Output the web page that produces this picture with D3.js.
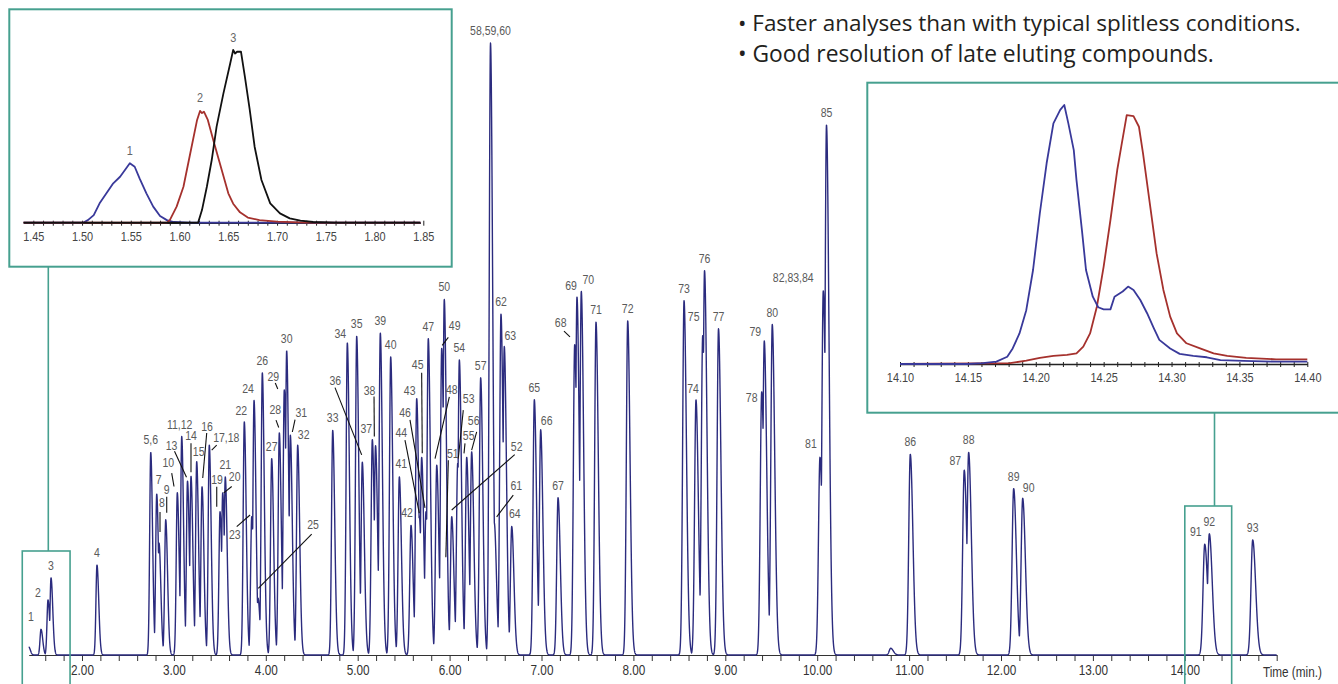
<!DOCTYPE html>
<html>
<head>
<meta charset="utf-8">
<script src="https://cdn.jsdelivr.net/npm/d3@7"></script>
<style>
  html, body { margin: 0; padding: 0; background: #fff; }
  svg { display: block; }
  .cond { font-family: "Liberation Sans", Arial, sans-serif; }
</style>
</head>
<body>
<div id="chart"></div>
<script>
// ---- peaks (time in min, height in % of tallest peak) ----
var peakLabels = ['1','2','3','4','5,6','7','8','9','10','11,12','13','14','15','16','17,18','19','20','21','22','23',
    '24','25','26','27','28','29','30','31','32','33','34','35','36','37','38','39','40','41','42','43','44','45','46',
    '47','48','49','50','51','52','53','54','55','56','57','58,59,60','61','62','63','64','65','66','67','68','69','70',
    '71','72','73','74','75','76','77','78','79','80','81','82,83,84','85','86','87','88','89','90','91','92','93'];
var peakTimes = [1.554, 1.630, 1.663, 2.163, 2.748, 2.813, 2.838, 2.911, 3.037, 3.085, 3.148, 3.186, 3.248, 3.306, 3.385,
    3.502, 3.531, 3.559, 3.766, 3.847, 3.872, 3.915, 3.962, 4.064, 4.147, 4.201, 4.227, 4.267, 4.347, 4.728, 4.887, 4.989,
    5.050, 5.159, 5.194, 5.246, 5.359, 5.453, 5.580, 5.642, 5.670, 5.696, 5.743, 5.768, 5.860, 5.914, 5.942, 5.959, 6.023,
    6.088, 6.106, 6.186, 6.240, 6.338, 6.445, 6.486, 6.559, 6.595, 6.676, 6.922, 6.991, 7.180, 7.361, 7.386, 7.433, 7.593,
    7.938, 8.551, 8.681, 8.754, 8.774, 8.926, 9.396, 9.424, 9.511, 10.030, 10.066, 10.101, 11.013, 11.600, 11.648, 12.138,
    12.236, 14.217, 14.267, 14.739];
var peakHeights = [4.2, 9.0, 12.6, 14.7, 33.1, 26.3, 18.3, 22.1, 26.5, 35.7, 28.4, 29.2, 31.6, 27.5, 34.3,
    23.4, 26.5, 29.1, 38.1, 22.6, 41.6, 9.3, 46.1, 32.1, 36.3, 43.3, 49.7, 35.9, 34.3, 36.7, 51.0, 52.1,
    31.5, 35.2, 34.2, 52.6, 48.7, 29.1, 21.2, 41.9, 22.7, 32.3, 23.4, 51.7, 31.0, 50.1, 58.1, 15.5, 22.6,
    31.3, 48.2, 32.3, 33.2, 45.3, 100, 21.6, 55.7, 50.4, 21.0, 41.7, 36.8, 25.7, 50.7, 58.5, 59.4, 54.4,
    54.6, 57.9, 41.7, 52.2, 62.8, 53.3, 43.0, 51.3, 54.0, 32.3, 59.5, 86.6, 32.8, 30.2, 33.1, 27.2,
    25.6, 18.1, 19.8, 18.8];
// small unlabelled bumps (solvent tail, 10.8 min)
var minorTimes   = [1.42, 10.80];
var minorHeights = [1.3, 1.1];

var timeTicks  = [2, 3, 4, 5, 6, 7, 8, 9, 10, 11, 12, 13, 14];
var axisTitle  = 'Time (min.)';

// zoom 1.45 - 1.85 min : [time, % of peak 3]
var leftTicks = [1.45, 1.50, 1.55, 1.60, 1.65, 1.70, 1.75, 1.80, 1.85];
var leftPeak1 = [[1.440,0],[1.501,0],[1.506,1.5],[1.512,4.4],[1.518,11.2],[1.525,17],[1.532,22.8],[1.539,26.6],
    [1.544,30.5],[1.549,34.4],[1.554,32.4],[1.559,25.7],[1.566,17],[1.573,9.3],[1.580,3.9],[1.587,1.5],[1.594,0.4],
    [1.610,0],[1.847,0]];
var leftPeak2 = [[1.440,0],[1.587,0],[1.590,1.5],[1.597,9.3],[1.604,20.8],[1.611,40.2],[1.618,59.5],[1.621,64.7],
    [1.623,63.5],[1.625,64.3],[1.629,59.5],[1.635,47],[1.640,37],[1.645,27],[1.650,17],[1.655,11],[1.662,6],
    [1.670,3],[1.682,1.5],[1.700,0.6],[1.730,0],[1.847,0]];
var leftPeak3 = [[1.440,0],[1.619,0],[1.623,7.3],[1.628,20.8],[1.633,36.3],[1.638,55.6],[1.645,74.9],[1.652,92.3],
    [1.655,100],[1.657,98],[1.659,99],[1.663,99],[1.667,84.6],[1.672,65.3],[1.677,44],[1.684,24.7],[1.693,11.2],
    [1.703,5.4],[1.713,2.5],[1.724,1.2],[1.737,0.4],[1.760,0],[1.847,0]];

// zoom 14.10 - 14.40 min : [time, % of peak 91]
var rightTicks = [14.10, 14.15, 14.20, 14.25, 14.30, 14.35, 14.40];
var rightPeak91 = [[14.100,0],[14.150,0],[14.161,0.3],[14.171,0.9],[14.179,2.8],[14.183,6.0],[14.188,11.8],
    [14.193,20.8],[14.198,36.3],[14.203,58.2],[14.208,77.5],[14.213,92.9],[14.218,98.1],[14.221,100],[14.224,92.9],
    [14.228,82.6],[14.230,71],[14.234,51.7],[14.237,36.3],[14.242,26],[14.246,21.9],[14.250,21.1],[14.255,21.1],
    [14.258,26],[14.264,28],[14.268,29.9],[14.272,28.6],[14.277,24.7],[14.282,19.6],[14.287,13.8],[14.291,9.3],
    [14.299,6.0],[14.306,3.9],[14.316,3.1],[14.326,2.6],[14.336,1.5],[14.353,1.2],[14.377,0.9],[14.400,0.9]];
var rightPeak92 = [[14.100,0],[14.181,0.3],[14.193,1.3],[14.203,2.4],[14.213,3.1],[14.223,3.5],[14.230,4.1],
    [14.235,6.7],[14.240,11.8],[14.245,22.1],[14.250,37.6],[14.255,55.6],[14.260,74.9],[14.263,84],[14.267,96.1],
    [14.272,95.7],[14.276,91.6],[14.279,81.3],[14.284,62],[14.289,42.7],[14.294,28.6],[14.299,18.3],[14.304,11.8],
    [14.311,8.0],[14.321,6.0],[14.331,4.1],[14.341,3.1],[14.355,2.4],[14.377,1.8],[14.400,1.8]];

var notes = ['\u2022 Faster analyses than with typical splitless conditions.',
             '\u2022 Good resolution of late eluting compounds.'];

// ---- label layout: [dx, dy] of label centre from the peak apex (px); default [0,-12] ----
var LABEL_NUDGE = {
    '1': [-10,-12], '2': [-10,-7], '7': [2,-14], '8': [3,-40], '9': [1,-30], '10': [-9,-30], '11,12': [-2,-12],
    '13': [-16,-35], '14': [0,-40], '15': [2,-10], '16': [5,-60], '17,18': [17,-7], '19': [-3,-32], '20': [12,-16],
    '22': [-3,-11], '23': [-17,18], '24': [-6,-11], '25': [55,-73], '28': [-4,-23], '29': [-11,-13], '31': [11,-22],
    '32': [6,-10], '34': [-7,-9], '36': [-27,-81], '37': [-6,-11], '38': [-6,-55], '41': [2,-13], '42': [-4,-12],
    '43': [-7,-8], '44': [-18,-83], '45': [-4,-92], '46': [-21,-99], '48': [15,-75], '49': [13,-22], '51': [7,-106],
    '52': [65,-70], '53': [11,-64], '55': [2,-21], '56': [2,-31], '61': [22,-37], '63': [6,-11], '64': [3,-12],
    '66': [6,-9], '68': [-14,-22], '69': [-6,-11], '70': [7,-11], '74': [-3,-11], '75': [-9,-19], '78': [-10,6],
    '79': [-9,-9], '81': [-9,-13], '82,83,84': [-30,-13], '87': [-9,-9], '90': [6,-10], '91': [-9,-12]
};
// leader lines [x1, y1, x2, y2] relative to the apex (px)
var LEADERS = {
    '8': [1,-31,1,-11], '9': [1,-23,1,-7], '10': [-5.6,-19.7,-3.3,-6.3], '13': [-13,-30,-1,-4], '14': [0,-33,0,-4],
    '16': [4.7,-53.7,0.7,-8.7], '17,18': [7.4,0,2.4,5], '19': [-3.3,-25,-3.3,-5], '20': [9,-6.3,1,0],
    '23': [-15,10,-1.7,-1.7], '25': [53.7,-64,0.3,-9.7], '28': [-3.3,-12.7,-0.6,-5.4], '29': [-9,-7,-6.5,-1],
    '31': [4.7,-15.7,2,-3.3], '36': [-27.3,-74.6,-0.6,-7.3], '38': [-1.5,-49.3,-1.2,-9.3], '44': [-14.3,-76,0,-3],
    '45': [0,-84.6,0.6,-4], '46': [-16,-92,-1,-4], '48': [12.6,-68.3,-1.7,-6.7], '49': [6.6,-11,0.5,-3],
    '51': [2.5,-100,0,-3], '52': [63,-62,0,-6.7], '53': [5.6,-53.3,0.6,-5], '55': [-1.7,-14,-2.7,-4],
    '56': [5,-20,0,-1.7], '61': [19,-27.7,2.4,-6], '68': [-10.7,-13.5,-4.7,-7.8]
};

var chromatogram = (function(){
    'use strict';
    var W = 1338, H = 684;

    var TEAL   = '#46a08f';
    var NAVY   = '#2b2b7e';
    var BLUE   = '#39399a';
    var RED    = '#a5312d';
    var GREY   = '#5a5a5a';
    var AXIS   = '#333';
    var NARROW = 0.84;   // printed labels use a condensed face

    var svg = d3.select('#chart').append('svg')
        .attr('width', W).attr('height', H);

    // main scales: 91.9 px per minute, baseline at 655
    var x = d3.scaleLinear().domain([1.42, 15.0]).range([28.7, 1276.7]);
    var y = d3.scaleLinear().domain([0, 100]).range([655, 43]);

    // squeeze text horizontally to mimic the condensed font
    function squeeze(sel, k) {
        sel.each(function(){
            var w = this.getComputedTextLength();
            if (w > 0) d3.select(this).attr('textLength', w * k).attr('lengthAdjust', 'spacingAndGlyphs');
        });
    }

    function peakSigma(t0) {
        // peaks broaden slowly with retention time
        return 0.010 + 0.0006 * t0;
    }

    function signalAt(t, times, heights) {
        var v = 0;
        for (var i = 0; i < times.length; i++) {
            var d = t - times[i];
            if (Math.abs(d) > 0.2) continue;
            var s = peakSigma(times[i]);
            if (d > 0) s *= 1.7; // tailing
            var g = heights[i] * Math.exp(-d * d / (2 * s * s));
            if (g > v) v = g;
        }
        return v;
    }

    function drawMain() {
        var g = svg.append('g').attr('id', 'main');
        var trace = d3.range(1.42, 15.0, 0.0015).map(function(t){
            return [t, Math.max(signalAt(t, peakTimes, peakHeights), signalAt(t, minorTimes, minorHeights))];
        });

        // axis
        var minor = d3.range(16, 151, 2).map(function(v){ return v / 10; });
        var axis = d3.axisBottom(x)
            .tickValues(minor)
            .tickSize(6)
            .tickSizeOuter(0)
            .tickPadding(4)
            .tickFormat(function(d){
                return timeTicks.indexOf(Math.round(d * 10) / 10) >= 0 ? d3.format('.2f')(d) : '';
            });
        var ax = g.append('g')
            .attr('class', 'cond')
            .attr('transform', 'translate(0,' + y(0) + ')')
            .call(axis);
        ax.select('.domain').attr('stroke', AXIS).attr('stroke-width', 1.2);
        ax.selectAll('.tick line').attr('stroke', AXIS).attr('stroke-width', 1);
        ax.selectAll('.tick text').attr('fill', '#333').style('font-size', '14px').call(squeeze, NARROW);

        g.append('text')
            .attr('class', 'cond')
            .attr('x', x(14.85)).attr('y', y(0) + 22)
            .attr('fill', '#333')
            .style('font-size', '14px')
            .text(axisTitle)
            .call(squeeze, NARROW);

        g.append('path')
            .datum(trace)
            .attr('fill', 'none')
            .attr('stroke', NAVY)
            .attr('stroke-width', 1.4)
            .attr('stroke-linejoin', 'round')
            .attr('d', d3.line().x(function(d){ return x(d[0]); }).y(function(d){ return y(d[1]); }));

        // peak labels + leaders
        var peaks = peakLabels.map(function(l, i){
            return {label: l, px: x(peakTimes[i]), py: y(peakHeights[i])};
        });
        g.selectAll('line.leader')
            .data(peaks.filter(function(p){ return LEADERS[p.label]; }))
            .enter().append('line')
            .attr('class', 'leader')
            .attr('x1', function(p){ return p.px + LEADERS[p.label][0]; })
            .attr('y1', function(p){ return p.py + LEADERS[p.label][1]; })
            .attr('x2', function(p){ return p.px + LEADERS[p.label][2]; })
            .attr('y2', function(p){ return p.py + LEADERS[p.label][3]; })
            .attr('stroke', '#111')
            .attr('stroke-width', 1.1);

        g.selectAll('text.peak')
            .data(peaks)
            .enter().append('text')
            .attr('class', 'peak cond')
            .attr('x', function(p){ return p.px + (LABEL_NUDGE[p.label] || [0, -12])[0]; })
            .attr('y', function(p){ return p.py + (LABEL_NUDGE[p.label] || [0, -12])[1]; })
            .attr('text-anchor', 'middle')
            .attr('dominant-baseline', 'central')
            .attr('fill', GREY)
            .style('font-size', '12.5px')
            .text(function(p){ return p.label; })
            .call(squeeze, NARROW);
    }

    function drawInset(opts) {
        var g = svg.append('g').attr('class', 'inset');
        g.append('rect')
            .attr('x', opts.box[0]).attr('y', opts.box[1])
            .attr('width', opts.box[2]).attr('height', opts.box[3])
            .attr('fill', '#fff').attr('stroke', TEAL).attr('stroke-width', 2);

        var ix = d3.scaleLinear().domain(opts.domain).range(opts.xRange);
        var iy = d3.scaleLinear().domain([0, 100]).range(opts.yRange);
        var axScale = ix.copy().domain(opts.axisSpan).range(opts.axisSpan.map(ix));

        var fine = d3.range(Math.round(opts.domain[0] * 100), Math.round(opts.domain[1] * 100) + 1)
            .map(function(v){ return v / 100; });
        var ax = g.append('g')
            .attr('class', 'cond')
            .attr('transform', 'translate(0,' + opts.yRange[0] + ')')
            .call(d3.axisBottom(axScale).tickValues(fine).tickSize(3).tickSizeOuter(0).tickPadding(6)
                .tickFormat(function(d){
                    return opts.ticks.some(function(t){ return Math.abs(t - d) < 1e-6; }) ? d3.format('.2f')(d) : '';
                }));
        ax.select('.domain').attr('stroke', '#222').attr('stroke-width', 1.6);
        ax.selectAll('.tick line').attr('stroke', '#222').attr('y1', -2);
        ax.selectAll('.tick text').attr('fill', '#444').style('font-size', '13px').call(squeeze, NARROW);

        var line = d3.line().x(function(d){ return ix(d[0]); }).y(function(d){ return iy(d[1]); });
        opts.series.forEach(function(s){
            g.append('path')
                .datum(s.data)
                .attr('fill', 'none')
                .attr('stroke', s.color)
                .attr('stroke-width', 1.8)
                .attr('stroke-linejoin', 'round')
                .attr('d', line);
            if (s.label) {
                var top = d3.greatest(s.data, function(d){ return d[1]; });
                g.append('text')
                    .attr('class', 'cond')
                    .attr('x', ix(top[0])).attr('y', iy(top[1]) - 13)
                    .attr('text-anchor', 'middle')
                    .attr('dominant-baseline', 'central')
                    .attr('fill', '#666')
                    .style('font-size', '13px')
                    .text(s.label)
                    .call(squeeze, NARROW);
            }
        });
    }

    function drawCallouts() {
        // small boxes on the main trace and their connectors
        svg.append('rect')
            .attr('x', x(1.35)).attr('y', 551)
            .attr('width', x(1.87) - x(1.35)).attr('height', 160)
            .attr('fill', 'none').attr('stroke', TEAL).attr('stroke-width', 1.6);
        svg.append('line')
            .attr('x1', 48.3).attr('x2', 48.3).attr('y1', 266.7).attr('y2', 551)
            .attr('stroke', TEAL).attr('stroke-width', 1.6);

        svg.append('rect')
            .attr('x', x(14.0)).attr('y', 506)
            .attr('width', x(14.51) - x(14.0)).attr('height', 200)
            .attr('fill', 'none').attr('stroke', TEAL).attr('stroke-width', 1.6);
        svg.append('line')
            .attr('x1', 1214.5).attr('x2', 1214.5).attr('y1', 412.7).attr('y2', 506)
            .attr('stroke', TEAL).attr('stroke-width', 1.6);
    }

    function drawNotes() {
        var targets = [563, 476];
        notes.forEach(function(n, i){
            var t = svg.append('text')
                .attr('x', 738).attr('y', 31 + i * 31)
                .attr('fill', '#231f20')
                .style('font-family', '"Open Sans", "Noto Sans", sans-serif')
                .style('font-size', '20px')
                .text(n);
            // fit width to the printed line
            var w = t.node().getComputedTextLength();
            t.style('font-size', (20 * targets[i] / w).toFixed(2) + 'px');
        });
    }

    function init() {
        drawMain();
        drawInset({
            box: [9.3, 9.3, 442.4, 257.4],
            domain: [1.45, 1.85], xRange: [33.3, 423.3], yRange: [222.7, 50],
            axisSpan: [1.44, 1.847], ticks: leftTicks,
            series: [
                {data: leftPeak1, color: BLUE, label: peakLabels[0]},
                {data: leftPeak2, color: RED, label: peakLabels[1]},
                {data: leftPeak3, color: '#111', label: peakLabels[2]}
            ]
        });
        drawInset({
            box: [867.3, 82.7, 490, 330],
            domain: [14.10, 14.40], xRange: [900, 1307.3], yRange: [364, 105],
            axisSpan: [14.10, 14.40], ticks: rightTicks,
            series: [
                {data: rightPeak92, color: RED, label: peakLabels[90]},
                {data: rightPeak91, color: BLUE, label: peakLabels[89]}
            ]
        });
        drawCallouts();
        drawNotes();
    }

    return { init: init };
})();

chromatogram.init();
</script>
</body>
</html>
